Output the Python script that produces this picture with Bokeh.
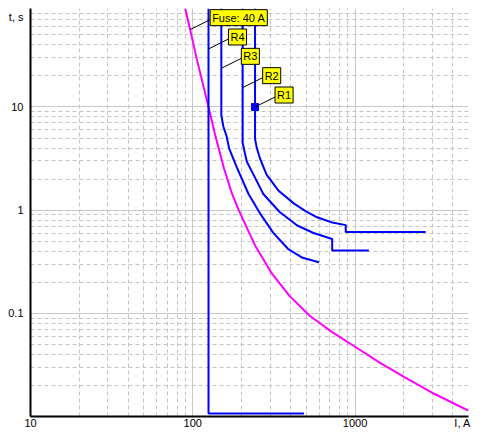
import numpy as np
from bokeh.plotting import figure
from bokeh.models import FixedTicker, Label
from bokeh.embed import file_html
from bokeh.resources import INLINE

# ---------------- data ----------------
# Fuse 40 A time-current curve (magenta)
fuse_I = [89.8, 96.3, 105.7, 125.0, 137.9, 155.6, 174.6, 191.9, 241.9, 305.3, 394.3,
          521, 722.6, 1000, 1451, 2104, 3054, 4434, 5000]
fuse_t = [90, 56.2, 29.4, 10, 5.23, 2.55, 1.434, 1.0, 0.4548, 0.2464, 0.1475,
          0.0958, 0.0657, 0.0474, 0.0326, 0.0231, 0.0167, 0.0125, 0.0114]

# Relay curves (blue)
r4_I = [125, 125, 484]
r4_t = [90, 0.0107, 0.0107]

r3_I = [149.9, 149.9, 154.1, 161.4, 167.6, 187.4, 220.6, 259.4, 312.7, 385.6, 475.3, 599.4]
r3_t = [90, 8.41, 6.50, 5.23, 3.95, 2.57, 1.434, 0.931, 0.605, 0.422, 0.345, 0.312]

r2_I = [202.9, 202.9, 209.5, 215.4, 236.6, 272.0, 342.9, 440.0, 555.0, 722.6, 722.6, 1215.6]
r2_t = [90, 4.50, 3.55, 2.94, 2.21, 1.434, 0.96, 0.71, 0.60, 0.526, 0.407, 0.407]

r1_I = [241.9, 241.9, 247.7, 259.4, 284.8, 339.1, 421.0, 497.7, 572.2, 722.6, 875.9, 875.9, 2720]
r1_t = [90, 4.91, 4.04, 3.17, 2.21, 1.53, 1.156, 0.972, 0.864, 0.759, 0.716, 0.614, 0.614]

r1_marker_I = [241.9]
r1_marker_t = [10]

# callout labels and the curve points they point at
label_text = ["Fuse: 40 A", "R4", "R3", "R2", "R1"]
label_anchor_I = [96.3, 125, 149.9, 202.9, 241.9]
label_anchor_t = [56.2, 36.5, 23.7, 15.4, 10]

# axes
x_ticks = [10, 100, 1000]
x_tick_labels = ["10", "100", "1000"]
y_ticks = [0.1, 1, 10]
y_tick_labels = ["0.1", "1", "10"]
x_title = "I, A"
y_title = "t, s"
x_title_pos = 4600
y_title_pos = 74

# ---------------- layout ----------------
X_RANGE = (10, 5000)
Y_RANGE = (0.01, 90)
W, H = 472, 431
BL, BR, BT, BB = 30, 4, 8, 13
FONT = "Liberation Sans"

p = figure(width=W, height=H, x_axis_type="log", y_axis_type="log",
           x_range=X_RANGE, y_range=Y_RANGE,
           output_backend="svg", toolbar_location=None,
           min_border_left=BL, min_border_right=BR,
           min_border_top=BT, min_border_bottom=BB)
p.outline_line_color = None
p.background_fill_color = "white"
p.border_fill_color = "white"

# ticks / labels
p.xaxis.ticker = FixedTicker(ticks=x_ticks + [x_title_pos])
p.xaxis.major_label_overrides = {**{t: s for t, s in zip(x_ticks, x_tick_labels)}, x_title_pos: x_title}
p.yaxis.ticker = FixedTicker(ticks=y_ticks + [y_title_pos])
p.yaxis.major_label_overrides = {**{t: s for t, s in zip(y_ticks, y_tick_labels)}, y_title_pos: y_title}
for ax in (p.xaxis, p.yaxis):
    ax.major_tick_line_color = None
    ax.minor_tick_line_color = None
    ax.major_tick_out = 0
    ax.major_tick_in = 0
    ax.minor_tick_out = 0
    ax.minor_tick_in = 0
    ax.axis_line_color = "black"
    ax.axis_line_width = 2
    ax.major_label_text_font = FONT
    ax.major_label_text_font_size = "11px"
    ax.major_label_text_color = "black"
p.xaxis.major_label_standoff = 0
p.yaxis.major_label_standoff = 7

# grids
decades_x = [10, 100, 1000]
decades_y = [0.01, 0.1, 1, 10]
p.xgrid.ticker = FixedTicker(ticks=decades_x,
                             minor_ticks=[m * d for d in decades_x for m in range(2, 10)])
p.ygrid.ticker = FixedTicker(ticks=decades_y,
                             minor_ticks=[m * d for d in decades_y for m in range(2, 10)])
for g in (p.xgrid, p.ygrid):
    g.grid_line_color = "#c8c8c8"
    g.grid_line_width = 1
    g.minor_grid_line_color = "#c4c4c4"
    g.minor_grid_line_dash = "4 3"
    g.minor_grid_line_width = 1

# curves
BLUE = "#0000FF"
p.line(fuse_I, fuse_t, color="#FF00FF", line_width=2)
for xs, ys in ((r4_I, r4_t), (r3_I, r3_t), (r2_I, r2_t), (r1_I, r1_t)):
    p.line(xs, ys, color=BLUE, line_width=2)
p.scatter(r1_marker_I, r1_marker_t, marker="square", size=7, color=BLUE)

# callouts: leader goes 20px right / 10px up from the anchor
frame_w = W - BL - BR
frame_h = H - BT - BB
px_per_dec_x = frame_w / np.log10(X_RANGE[1] / X_RANGE[0])
px_per_dec_y = frame_h / np.log10(Y_RANGE[1] / Y_RANGE[0])
DX, DY = 20, 10
fx = 10 ** (DX / px_per_dec_x)
fy = 10 ** (DY / px_per_dec_y)
end_I = [a * fx for a in label_anchor_I]
end_t = [a * fy for a in label_anchor_t]
p.segment(label_anchor_I, label_anchor_t, end_I, end_t, color="black", line_width=1)
for txt, xi, yi in zip(label_text, end_I, end_t):
    p.add_layout(Label(x=xi, y=yi, text=txt, text_align="left", text_baseline="middle",
                       y_offset=2, text_font=FONT, text_font_size="11px",
                       text_color="black", background_fill_color="#FFFF00",
                       border_line_color="black", border_line_width=1, padding=2))

open("out.html", "w").write(file_html(p, INLINE))
